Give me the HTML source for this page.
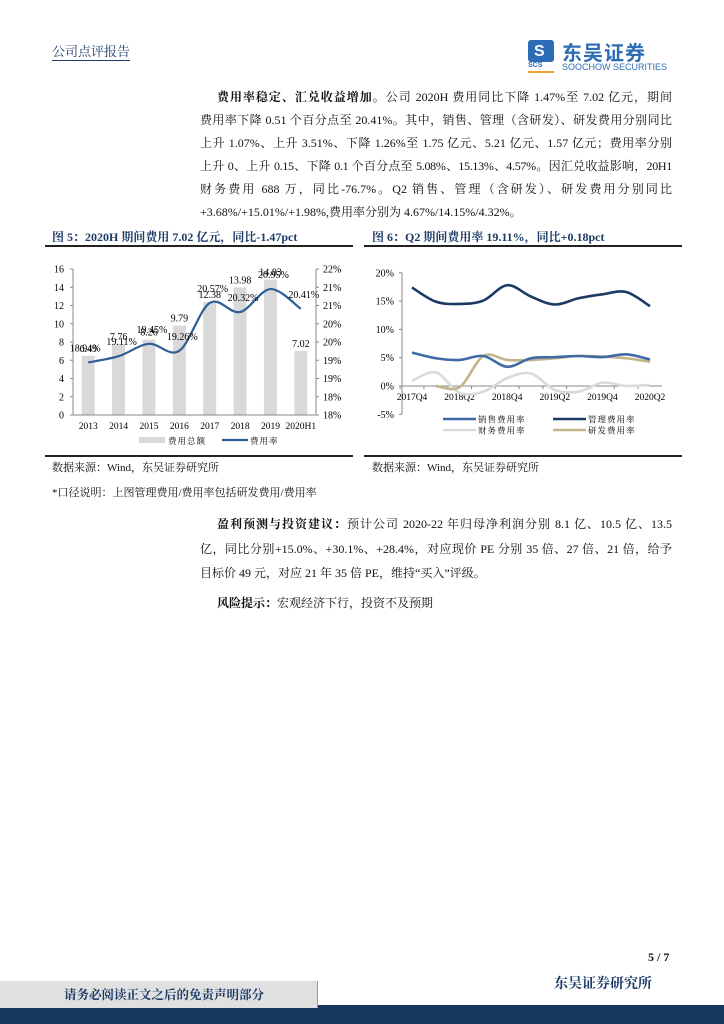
<!DOCTYPE html>
<html><head><meta charset="utf-8">
<style>
body{margin:0;width:724px;height:1024px;position:relative;background:#fff;overflow:hidden;font-family:"Liberation Serif","Noto Serif CJK SC",serif;color:#111}
.a{position:absolute;white-space:nowrap}
.para{position:absolute;left:200px;width:472px;font-size:12px;line-height:23px}
.ln{text-align:justify;text-align-last:justify;height:23px;white-space:nowrap;overflow:visible}
.last{text-align-last:left}
.cap{position:absolute;font-size:12px;font-weight:bold;color:#1b3a66}
.rule{position:absolute;height:2px;background:#222}
svg text{font-family:"Liberation Serif","Noto Serif CJK SC",serif}
</style></head><body>
<div class="a" style="left:52px;top:43px;font-size:13px;color:#1b3a66;border-bottom:1px solid #1b3a66;line-height:17px">公司点评报告</div>
<div class="a" style="left:528px;top:40px;width:146px;height:34px">
 <div style="position:absolute;left:0;top:0;width:26px;height:22px;background:#2d6db5;border-radius:3px"></div>
 <div style="position:absolute;left:6px;top:3px;font:bold 16px 'Liberation Sans';color:#fff">S</div>
 <div style="position:absolute;left:0;top:22px;font:bold 7px 'Liberation Sans';color:#2d6db5">SCS</div>
 <div style="position:absolute;left:0;top:31px;width:26px;height:2px;background:#f0a030"></div>
 <div style="position:absolute;left:34px;top:-3px;font:bold 20px 'Noto Sans CJK SC',sans-serif;color:#2d6db5;letter-spacing:1px">东吴证券</div>
 <div style="position:absolute;left:34px;top:22px;font:9px 'Liberation Sans',sans-serif;color:#2d6db5">SOOCHOW SECURITIES</div>
</div>

<div class="para" style="top:86px">
<div class="ln" style="padding-left:17px"><b>费用率稳定、汇兑收益增加。</b>公司 2020H 费用同比下降 1.47%至 7.02 亿元，期间</div>
<div class="ln">费用率下降 0.51 个百分点至 20.41%。其中，销售、管理（含研发）、研发费用分别同比</div>
<div class="ln">上升 1.07%、上升 3.51%、下降 1.26%至 1.75 亿元、5.21 亿元、1.57 亿元；费用率分别</div>
<div class="ln" style="letter-spacing:-0.3px">上升 0、上升 0.15、下降 0.1 个百分点至 5.08%、15.13%、4.57%。因汇兑收益影响，20H1</div>
<div class="ln">财务费用 688 万，同比-76.7%。Q2 销售、管理（含研发）、研发费用分别同比</div>
<div class="ln last">+3.68%/+15.01%/+1.98%,费用率分别为 4.67%/14.15%/4.32%。</div>
</div>

<div class="cap" style="left:52px;top:228px">图 5：2020H 期间费用 7.02 亿元，同比-1.47pct</div>
<div class="cap" style="left:372px;top:228px">图 6：Q2 期间费用率 19.11%，同比+0.18pct</div>
<div class="rule" style="left:45px;top:245px;width:308px"></div>
<div class="rule" style="left:364px;top:245px;width:318px"></div>
<div class="rule" style="left:45px;top:455px;width:308px;height:1.5px"></div>
<div class="rule" style="left:364px;top:455px;width:318px;height:1.5px"></div>

<div class="a" style="left:52px;top:459px;font-size:11px">数据来源：Wind，东吴证券研究所</div>
<div class="a" style="left:372px;top:459px;font-size:11px">数据来源：Wind，东吴证券研究所</div>
<div class="a" style="left:52px;top:484px;font-size:11px">*口径说明：上图管理费用/费用率包括研发费用/费用率</div>

<div class="para" style="top:512px;line-height:24.5px">
<div class="ln" style="padding-left:17px;height:24.5px"><b>盈利预测与投资建议：</b>预计公司 2020-22 年归母净利润分别 8.1 亿、10.5 亿、13.5</div>
<div class="ln" style="height:24.5px">亿，同比分别+15.0%、+30.1%、+28.4%，对应现价 PE 分别 35 倍、27 倍、21 倍，给予</div>
<div class="ln last" style="height:24.5px">目标价 49 元，对应 21 年 35 倍 PE，维持“买入”评级。</div>
</div>
<div class="para" style="top:592px;padding-left:17px"><b>风险提示：</b>宏观经济下行，投资不及预期</div>

<div class="a" style="left:648px;top:950px;font-size:12px;font-weight:bold">5 / 7</div>
<div class="a" style="left:554px;top:973px;font-size:14px;font-weight:bold;color:#1b3a66">东吴证券研究所</div>
<div class="a" style="left:0;top:1005px;width:724px;height:19px;background:#17365d"></div>
<div class="a" style="left:0;top:981px;width:317px;height:27px;background:#e0e0e0;border-right:1px solid #999"></div>
<div class="a" style="left:64px;top:985px;font-size:12.5px;font-weight:bold;color:#1b3a66">请务必阅读正文之后的免责声明部分</div>

<svg id="chart5" style="position:absolute;left:0;top:0" width="724" height="1024"></svg>
<svg id="chart6" style="position:absolute;left:0;top:0" width="724" height="1024"></svg>

<script>
const cats5 = ['2013','2014','2015','2016','2017','2018','2019','2020H1'];
const expenseTotal = [6.49, 7.76, 8.26, 9.79, 12.38, 13.98, 14.83, 7.02];
const expenseRate = [18.94, 19.11, 19.45, 19.26, 20.57, 20.32, 20.95, 20.41];
const leftTicks5 = [0,2,4,6,8,10,12,14,16];
const rightTicks5 = [17.5,18,18.5,19,19.5,20,20.5,21,21.5];
const rightTickLabels5 = ['18%','18%','19%','19%','20%','20%','21%','21%','22%'];

const cats6 = ['2017Q4','2018Q1','2018Q2','2018Q3','2018Q4','2019Q1','2019Q2','2019Q3','2019Q4','2020Q1','2020Q2'];
const salesRate = [5.9, 4.9, 4.6, 5.3, 3.4, 4.9, 5.1, 5.3, 5.1, 5.6, 4.7];
const mgmtRate = [17.4, 14.9, 14.5, 15.1, 17.8, 15.8, 14.4, 15.5, 16.2, 16.6, 14.1];
const finRate = [0.9, 2.4, -1.2, -1.0, 1.4, 2.2, -0.7, -1.0, 0.6, 0.0, 0.2];
const rdRate = [null, 0.0, -0.2, 5.3, 4.6, 4.6, 4.9, 5.3, 5.2, 4.9, 4.3];
const ticks6 = [-5,0,5,10,15,20];

const NS='http://www.w3.org/2000/svg';
function mk(svg,tag,attrs,txt){const e=document.createElementNS(NS,tag);for(const k in attrs)e.setAttribute(k,attrs[k]);if(txt!==undefined)e.textContent=txt;svg.appendChild(e);return e;}
function smooth(pts){let d='M'+pts[0][0]+','+pts[0][1];for(let i=0;i<pts.length-1;i++){const p0=pts[i-1]||pts[i],p1=pts[i],p2=pts[i+1],p3=pts[i+2]||p2;const t=6;d+=' C'+(p1[0]+(p2[0]-p0[0])/t)+','+(p1[1]+(p2[1]-p0[1])/t)+' '+(p2[0]-(p3[0]-p1[0])/t)+','+(p2[1]-(p3[1]-p1[1])/t)+' '+p2[0]+','+p2[1];}return d;}

// Chart 5
const s5=document.getElementById('chart5');
const L5=73,R5=316,B5=415,T5=269;
const x5=i=>L5+(i+0.5)*(R5-L5)/cats5.length;
const yL=v=>B5-v*(B5-T5)/16;
const yR=p=>B5-(p-17.5)*(B5-T5)/4;
leftTicks5.forEach(v=>{const t=mk(s5,'text',{x:64,y:yL(v)+3.5,'text-anchor':'end','font-size':10},String(v));


mk(s5,'line',{x1:L5-3,x2:L5,y1:yL(v),y2:yL(v),stroke:'#888'});});
rightTicks5.forEach((v,i)=>{const t=mk(s5,'text',{x:R5+7,y:yR(v)+3.5,'font-size':10},rightTickLabels5[i]);


mk(s5,'line',{x1:R5,x2:R5+3,y1:yR(v),y2:yR(v),stroke:'#888'});});
mk(s5,'line',{x1:L5,x2:L5,y1:T5,y2:B5,stroke:'#888'});
mk(s5,'line',{x1:R5,x2:R5,y1:T5,y2:B5,stroke:'#888'});
expenseTotal.forEach((v,i)=>{const r=mk(s5,'rect',{x:x5(i)-6.5,y:yL(v),width:13,height:B5-yL(v),fill:'#d9d9d9'});


const t=mk(s5,'text',{x:x5(i),y:yL(v)-4,'text-anchor':'middle','font-size':10},v.toFixed(2));

});
mk(s5,'line',{x1:L5,x2:R5,y1:B5,y2:B5,stroke:'#888'});
cats5.forEach((c,i)=>{const t=mk(s5,'text',{x:x5(i),y:B5+14,'text-anchor':'middle','font-size':9.5},c);

});
const p5=expenseRate.map((v,i)=>[x5(i),yR(v)]);
const ln5=mk(s5,'path',{d:smooth(p5),fill:'none',stroke:'#2f5d96','stroke-width':2.2});


expenseRate.forEach((v,i)=>{const t=mk(s5,'text',{x:x5(i)+(i==0?-3:3),y:yR(v)-11,'text-anchor':'middle','font-size':10},v.toFixed(2)+'%');

});
const lg1=mk(s5,'rect',{x:139,y:437,width:26,height:6,fill:'#d9d9d9'});


mk(s5,'text',{x:168,y:444,'font-size':8.5,'letter-spacing':1},'费用总额');
const lg2=mk(s5,'line',{x1:222,x2:248,y1:440,y2:440,stroke:'#2f5d96','stroke-width':2.2});


mk(s5,'text',{x:250,y:444,'font-size':8.5,'letter-spacing':1},'费用率');

// Chart 6
const s6=document.getElementById('chart6');
const L6=402,R6=662,x6=i=>412+i*23.8,y6=p=>386-p*28.3/5;
ticks6.forEach(v=>{const t=mk(s6,'text',{x:394,y:y6(v)+3.5,'text-anchor':'end','font-size':10},v+'%');


mk(s6,'line',{x1:L6-3,x2:L6,y1:y6(v),y2:y6(v),stroke:'#888'});});
mk(s6,'line',{x1:L6,x2:L6,y1:y6(20),y2:y6(-5),stroke:'#888'});
mk(s6,'line',{x1:L6,x2:R6,y1:y6(0),y2:y6(0),stroke:'#888'});
cats6.forEach((c,i)=>{mk(s6,'line',{x1:x6(i)-11.9,x2:x6(i)-11.9,y1:y6(0),y2:y6(0)+3,stroke:'#888'});
if(i%2==0){const t=mk(s6,'text',{x:x6(i),y:y6(0)+14,'text-anchor':'middle','font-size':9.5},c);

}});
const series6=[[finRate,'#dadada','finance-rate-line'],[rdRate,'#c3b48a','rd-rate-line'],[salesRate,'#3f6aa5','sales-rate-line'],[mgmtRate,'#1b3a66','management-rate-line']];
series6.forEach(([arr,col,name])=>{const pts=[];arr.forEach((v,i)=>{if(v!==null)pts.push([x6(i),y6(v)]);});
const p=mk(s6,'path',{d:smooth(pts),fill:'none',stroke:col,'stroke-width':2.6});

});
const leg=[['#3f6aa5','销售费用率',443,419],['#1b3a66','管理费用率',553,419],['#dadada','财务费用率',443,430],['#c3b48a','研发费用率',553,430]];
leg.forEach(([c,t,x,y])=>{const l=mk(s6,'line',{x1:x,x2:x+33,y1:y,y2:y,stroke:c,'stroke-width':2.6});


mk(s6,'text',{x:x+35,y:y+3.5,'font-size':8.5,'letter-spacing':1},t);});
</script>
</body></html>
